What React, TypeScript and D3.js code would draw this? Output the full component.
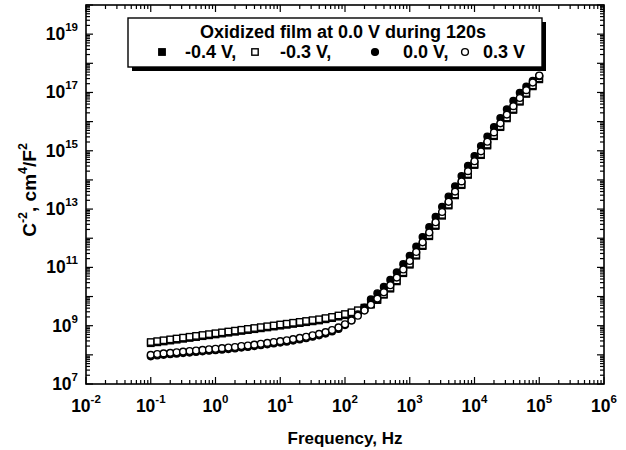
import React from "react"
import * as d3 from "d3"

// frequency points (Hz), 10 per decade
const frequencyHz = [
	0.1, 0.126, 0.158, 0.2, 0.251, 0.316, 0.398, 0.501, 0.631, 0.794,
	1, 1.26, 1.58, 2, 2.51, 3.16, 3.98, 5.01, 6.31, 7.94,
	10, 12.6, 15.8, 20, 25.1, 31.6, 39.8, 50.1, 63.1, 79.4,
	100, 126, 158, 200, 251, 316, 398, 501, 631, 794,
	1000, 1260, 1580, 2000, 2510, 3160, 3980, 5010, 6310, 7940,
	10000, 12600, 15800, 20000, 25100, 31600, 39800, 50100, 63100, 79400,
	100000,
]

// C^-2 (cm^4/F^2) for each polarisation potential
const cNeg04 = [
	2.51e8, 2.69e8, 2.88e8, 3.09e8, 3.31e8, 3.55e8, 3.8e8, 4.07e8, 4.37e8, 4.68e8,
	5.01e8, 5.37e8, 5.75e8, 6.17e8, 6.61e8, 7.08e8, 7.59e8, 8.13e8, 8.71e8, 9.33e8,
	1.0e9, 1.07e9, 1.15e9, 1.23e9, 1.32e9, 1.41e9, 1.51e9, 1.66e9, 1.82e9, 2.04e9,
	2.29e9, 2.63e9, 3.16e9, 3.98e9, 5.25e9, 7.59e9, 1.15e10, 1.86e10, 3.31e10, 6.31e10,
	1.23e11, 2.51e11, 5.37e11, 1.17e12, 2.63e12, 5.89e12, 1.32e13, 2.95e13, 6.61e13, 1.48e14,
	3.24e14, 7.08e14, 1.51e15, 3.16e15, 6.46e15, 1.29e16, 2.51e16, 4.79e16, 8.91e16, 1.62e17,
	2.82e17,
]
const cNeg03 = [
	2.75e8, 2.95e8, 3.16e8, 3.39e8, 3.63e8, 3.89e8, 4.17e8, 4.47e8, 4.79e8, 5.13e8,
	5.5e8, 5.89e8, 6.31e8, 6.76e8, 7.24e8, 7.76e8, 8.32e8, 8.91e8, 9.55e8, 1.02e9,
	1.1e9, 1.17e9, 1.26e9, 1.35e9, 1.45e9, 1.55e9, 1.66e9, 1.82e9, 2.0e9, 2.24e9,
	2.51e9, 2.88e9, 3.39e9, 4.17e9, 5.5e9, 7.94e9, 1.2e10, 2.0e10, 3.55e10, 6.76e10,
	1.32e11, 2.69e11, 5.75e11, 1.26e12, 2.82e12, 6.31e12, 1.41e13, 3.16e13, 7.08e13, 1.58e14,
	3.47e14, 7.59e14, 1.62e15, 3.39e15, 6.92e15, 1.38e16, 2.69e16, 5.13e16, 9.55e16, 1.74e17,
	3.02e17,
]
const cZero = [
	8.91e7, 9.55e7, 1.0e8, 1.05e8, 1.1e8, 1.15e8, 1.2e8, 1.26e8, 1.32e8, 1.38e8,
	1.45e8, 1.51e8, 1.58e8, 1.66e8, 1.78e8, 1.86e8, 2.0e8, 2.14e8, 2.29e8, 2.45e8,
	2.63e8, 2.82e8, 3.09e8, 3.39e8, 3.72e8, 4.17e8, 4.68e8, 5.37e8, 6.31e8, 7.76e8,
	1.05e9, 1.51e9, 2.45e9, 4.17e9, 7.94e9, 1.29e10, 2.14e10, 3.72e10, 6.76e10, 1.29e11,
	2.51e11, 5.13e11, 1.1e12, 2.4e12, 5.37e12, 1.2e13, 2.69e13, 6.03e13, 1.35e14, 3.02e14,
	6.61e14, 1.45e15, 3.09e15, 6.46e15, 1.32e16, 2.63e16, 5.13e16, 9.77e16, 1.58e17, 2.51e17,
	3.63e17,
]
const cPos03 = [
	1.0e8, 1.07e8, 1.12e8, 1.17e8, 1.23e8, 1.29e8, 1.35e8, 1.41e8, 1.48e8, 1.55e8,
	1.62e8, 1.7e8, 1.78e8, 1.86e8, 2.0e8, 2.09e8, 2.24e8, 2.4e8, 2.57e8, 2.75e8,
	2.95e8, 3.16e8, 3.47e8, 3.8e8, 4.17e8, 4.68e8, 5.25e8, 6.03e8, 7.08e8, 8.71e8,
	1.12e9, 1.51e9, 2.19e9, 3.31e9, 5.25e9, 8.51e9, 1.41e10, 2.45e10, 4.47e10, 8.51e10,
	1.66e11, 3.39e11, 7.24e11, 1.58e12, 3.55e12, 7.94e12, 1.78e13, 3.98e13, 8.91e13, 2.0e14,
	4.37e14, 9.55e14, 2.04e15, 4.27e15, 8.71e15, 1.74e16, 3.39e16, 6.46e16, 1.2e17, 2.19e17,
	3.8e17,
]

const seriesLabels = ["-0.4 V,", "-0.3 V,", "0.0 V,", "0.3 V"]
const legendTitle = "Oxidized film at 0.0 V during 120s"

const xExponents = [-2, -1, 0, 1, 2, 3, 4, 5, 6]
const yExponents = [7, 8, 9, 10, 11, 12, 13, 14, 15, 16, 17, 18, 19, 20]
const yLabelExponents = [7, 9, 11, 13, 15, 17, 19]

const W = 626
const H = 450
const left = 86
const right = 604
const top = 5
const bottom = 384
const FONT = "'Liberation Sans', Arial, sans-serif"

const Marker = ({ kind, filled, cx, cy }) => {
	if (kind === "square") {
		const s = 6.4
		return (
			<rect
				x={cx - s / 2}
				y={cy - s / 2}
				width={s}
				height={s}
				fill={filled ? "#000" : "#fff"}
				stroke="#000"
				strokeWidth={1.4}
			/>
		)
	}
	return (
		<circle
			cx={cx}
			cy={cy}
			r={3.4}
			fill={filled ? "#000" : "#fff"}
			stroke="#000"
			strokeWidth={1.4}
		/>
	)
}

const Pow10 = ({ x, y, exp, anchor }) => (
	<text
		x={x}
		y={y}
		textAnchor={anchor}
		fontFamily={FONT}
		fontWeight="bold"
		fontSize={17.5}
		fill="#000"
	>
		10
		<tspan dy={-9} fontSize={11.5}>
			{exp}
		</tspan>
	</text>
)

export default function App() {
	const x = d3.scaleLog().domain([1e-2, 1e6]).range([left, right])
	const y = d3.scaleLog().domain([1e7, 1e20]).range([bottom, top])

	const series = [
		{ values: cNeg04, kind: "square", filled: true },
		{ values: cNeg03, kind: "square", filled: false },
		{ values: cZero, kind: "circle", filled: true },
		{ values: cPos03, kind: "circle", filled: false },
	]

	const minor = (exps) => {
		const out = []
		exps.slice(0, -1).forEach((e) => {
			for (let k = 2; k <= 9; k++) out.push(k * Math.pow(10, e))
		})
		return out
	}
	const xMinor = minor(xExponents)
	const yMinor = minor(yExponents)
	const major = 7
	const small = 4

	// legend layout
	const lgX = 128
	const lgY = 18
	const lgW = 414
	const lgH = 49
	const legendMarkerX = [162, 255, 375, 465]
	const legendTextX = [185, 280, 403, 483]

	return (
		<svg
			width={W}
			height={H}
			style={{ position: "absolute", left: 0, top: 0, background: "#fff" }}
		>
			<rect x={0} y={0} width={W} height={H} fill="#fff" />

			{/* ticks, all pointing inward */}
			<g stroke="#000" strokeWidth={1.2}>
				{xExponents.map((e) => (
					<g key={"xt" + e}>
						<line x1={x(10 ** e)} x2={x(10 ** e)} y1={bottom} y2={bottom - major} />
						<line x1={x(10 ** e)} x2={x(10 ** e)} y1={top} y2={top + major} />
					</g>
				))}
				{xMinor.map((v, i) => (
					<g key={"xm" + i}>
						<line x1={x(v)} x2={x(v)} y1={bottom} y2={bottom - small} />
						<line x1={x(v)} x2={x(v)} y1={top} y2={top + small} />
					</g>
				))}
				{yExponents.map((e) => (
					<g key={"yt" + e}>
						<line x1={left} x2={left + major} y1={y(10 ** e)} y2={y(10 ** e)} />
						<line x1={right} x2={right - major} y1={y(10 ** e)} y2={y(10 ** e)} />
					</g>
				))}
				{yMinor.map((v, i) => (
					<g key={"ym" + i}>
						<line x1={left} x2={left + small} y1={y(v)} y2={y(v)} />
						<line x1={right} x2={right - small} y1={y(v)} y2={y(v)} />
					</g>
				))}
			</g>

			<rect
				x={left}
				y={top}
				width={right - left}
				height={bottom - top}
				fill="none"
				stroke="#000"
				strokeWidth={1.6}
			/>

			{/* tick labels */}
			{xExponents.map((e) => (
				<Pow10 key={"xl" + e} x={x(10 ** e)} y={bottom + 28} exp={e} anchor="middle" />
			))}
			{yLabelExponents.map((e) => (
				<Pow10 key={"yl" + e} x={left - 8} y={y(10 ** e) + 6} exp={e} anchor="end" />
			))}

			{/* axis titles */}
			<text
				x={(left + right) / 2}
				y={444}
				textAnchor="middle"
				fontFamily={FONT}
				fontWeight="bold"
				fontSize={17}
			>
				Frequency, Hz
			</text>
			<text
				transform={`translate(36, 190) rotate(-90)`}
				textAnchor="middle"
				fontFamily={FONT}
				fontWeight="bold"
				fontSize={19}
			>
				C
				<tspan dy={-9} fontSize={12.5}>
					-2
				</tspan>
				<tspan dy={9}>, cm</tspan>
				<tspan dy={-9} fontSize={12.5}>
					4
				</tspan>
				<tspan dy={9}>/F</tspan>
				<tspan dy={-9} fontSize={12.5}>
					2
				</tspan>
			</text>

			{/* data */}
			{series.map((s, si) => (
				<g key={"s" + si}>
					{s.values.map((v, i) => (
						<Marker
							key={i}
							kind={s.kind}
							filled={s.filled}
							cx={x(frequencyHz[i])}
							cy={y(v)}
						/>
					))}
				</g>
			))}

			{/* legend with drop shadow */}
			<rect x={lgX + 4} y={lgY + 4} width={lgW} height={lgH} fill="#000" />
			<rect
				x={lgX}
				y={lgY}
				width={lgW}
				height={lgH}
				fill="#fff"
				stroke="#000"
				strokeWidth={1.4}
			/>
			<text
				x={343}
				y={lgY + 20}
				textAnchor="middle"
				fontFamily={FONT}
				fontWeight="bold"
				fontSize={18}
			>
				{legendTitle}
			</text>
			{series.map((s, si) => (
				<g key={"lg" + si}>
					<Marker
						kind={s.kind}
						filled={s.filled}
						cx={legendMarkerX[si]}
						cy={lgY + 34}
					/>
					<text
						x={legendTextX[si]}
						y={lgY + 40}
						fontFamily={FONT}
						fontWeight="bold"
						fontSize={18}
					>
						{seriesLabels[si]}
					</text>
				</g>
			))}
		</svg>
	)
}
